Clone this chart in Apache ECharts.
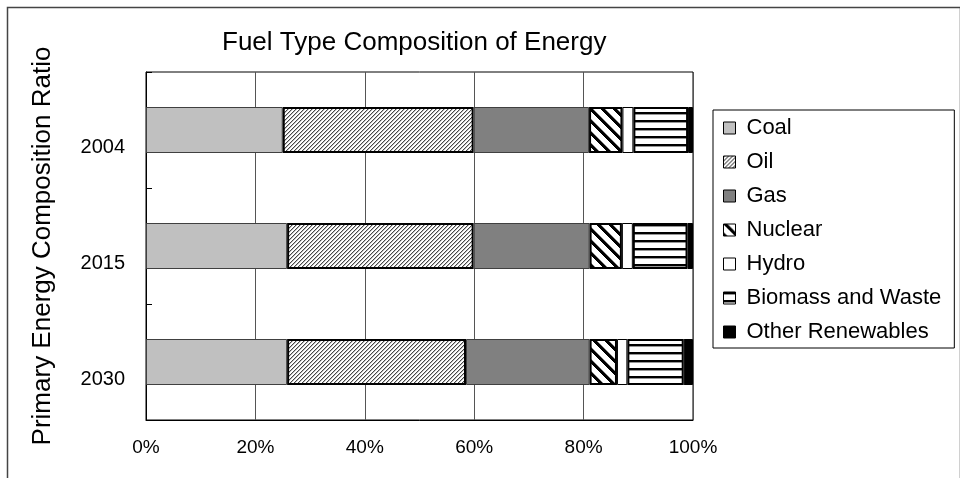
<!DOCTYPE html>
<html>
<head>
<meta charset="utf-8">
<script src="https://cdn.jsdelivr.net/npm/echarts@6/dist/echarts.min.js"></script>
<style>html,body{margin:0;padding:0;background:#fff}#c{width:960px;height:478px}</style>
</head>
<body>
<div id="c"></div>
<script>
const years = ['2004', '2015', '2030'];
const xTicks = [0, 20, 40, 60, 80, 100];
const seriesNames = ['Coal', 'Oil', 'Gas', 'Nuclear', 'Hydro', 'Biomass and Waste', 'Other Renewables'];
const coal = [25.0, 25.8, 25.8];
const oil = [34.9, 34.1, 32.7];
const gas = [21.1, 21.2, 22.6];
const nuclear = [6.1, 5.9, 5.0];
const hydro = [2.0, 2.0, 1.9];
const biomass = [10.0, 10.0, 10.3];
const other = [0.9, 1.0, 1.7];

function makePattern(size, fn) {
  const cv = document.createElement('canvas');
  cv.width = size; cv.height = size;
  const ctx = cv.getContext('2d');
  const img = ctx.createImageData(size, size);
  for (let y = 0; y < size; y++) for (let x = 0; x < size; x++) {
    const v = fn(x, y);
    const i = (y * size + x) * 4;
    img.data[i] = img.data[i + 1] = img.data[i + 2] = v; img.data[i + 3] = 255;
  }
  ctx.putImageData(img, 0, 0);
  return { image: cv, repeat: 'repeat' };
}
const oilPat = makePattern(8, (x, y) => { const k = (x + y) % 4; return k === 0 ? 70 : (k === 1 ? 190 : 255); });
const nucPat = makePattern(12, (x, y) => { const k = ((x - y) % 12 + 12) % 12; return k < 4 ? 0 : (k === 4 ? 140 : 255); });
const bioPat = makePattern(8, (x, y) => { const k = y % 8; return k < 2 ? 0 : (k === 2 ? 150 : 255); });

function hasFont(name) {
  const c = document.createElement('canvas').getContext('2d');
  c.font = '40px monospace';
  const a = c.measureText('100% abc').width;
  c.font = '40px "' + name + '", monospace';
  const b = c.measureText('100% abc').width;
  return a !== b;
}
const narrow = hasFont('Liberation Sans Narrow');
const xLabFont = narrow ? { fontFamily: '"Liberation Sans Narrow"', fontSize: 22 } : { fontFamily: 'Liberation Sans', fontSize: 18 };

const FONT = '"Liberation Sans", Arial, sans-serif';
const values = [coal, oil, gas, nuclear, hydro, biomass, other];
const styles = [
  { color: '#c0c0c0', borderColor: '#404040', borderWidth: 1 },
  { color: oilPat, borderColor: '#000', borderWidth: 2 },
  { color: '#808080', borderColor: '#404040', borderWidth: 1 },
  { color: nucPat, borderColor: '#000', borderWidth: 2 },
  { color: '#ffffff', borderColor: '#000', borderWidth: 1 },
  { color: bioPat, borderColor: '#000', borderWidth: 2 },
  { color: '#000000', borderColor: '#000', borderWidth: 1 }
];

const chart = echarts.init(document.getElementById('c'), null, { renderer: 'canvas' });
chart.setOption({
  animation: false,
  backgroundColor: '#fff',
  textStyle: { fontFamily: FONT, color: '#000' },
  title: {
    text: 'Fuel Type Composition of Energy',
    left: 222, top: 30, padding: 0,
    textStyle: { fontFamily: FONT, fontSize: 26, fontWeight: 'normal', color: '#000' }
  },
  graphic: [{
    type: 'rect', left: 5, top: 5, silent: true, z: -1,
    shape: { width: 953, height: 490 },
    style: { fill: 'none', stroke: '#444', lineWidth: 1.5 }
  }],
  legend: {
    orient: 'vertical',
    left: 713, top: 110,
    padding: [7, 13, 5, 10],
    backgroundColor: '#fff',
    borderColor: '#000', borderWidth: 1,
    itemWidth: 12, itemHeight: 12, itemGap: 12,
    icon: 'rect',
    itemStyle: { borderColor: '#000', borderWidth: 1 },
    textStyle: { fontFamily: FONT, fontSize: 22, lineHeight: 22, color: '#000', padding: [0, 0, 0, 6] },
    data: seriesNames
  },
  grid: {
    left: 146, right: 267, top: 72, bottom: 58,
    show: true, borderColor: '#000', borderWidth: 1, backgroundColor: 'transparent'
  },
  xAxis: {
    type: 'value', min: 0, max: 100, interval: 20,
    axisLine: { show: true, lineStyle: { color: '#000' } },
    axisTick: { show: false },
    splitLine: { show: true, lineStyle: { color: '#555', width: 1 } },
    axisLabel: {
      margin: 18, color: '#000', fontFamily: xLabFont.fontFamily, fontSize: xLabFont.fontSize + 1,
      formatter: v => (xTicks.indexOf(v) >= 0 ? v + '%' : '')
    }
  },
  yAxis: {
    type: 'category', data: years, inverse: true,
    name: 'Primary Energy Composition Ratio',
    nameLocation: 'middle', nameGap: 90, nameRotate: 90,
    nameTextStyle: { fontFamily: FONT, fontSize: 26, color: '#000' },
    axisLine: { show: true, lineStyle: { color: '#000' } },
    axisTick: { show: true, inside: true, length: 6, lineStyle: { color: '#000' } },
    axisLabel: { margin: 21, color: '#000', fontFamily: FONT, fontSize: 20, verticalAlign: 'top', lineHeight: 34 }
  },
  series: seriesNames.map((n, i) => ({
    name: n, type: 'bar', stack: 'total', barWidth: 46,
    data: values[i],
    itemStyle: styles[i],
    emphasis: { disabled: true }
  }))
});
</script>
</body>
</html>
